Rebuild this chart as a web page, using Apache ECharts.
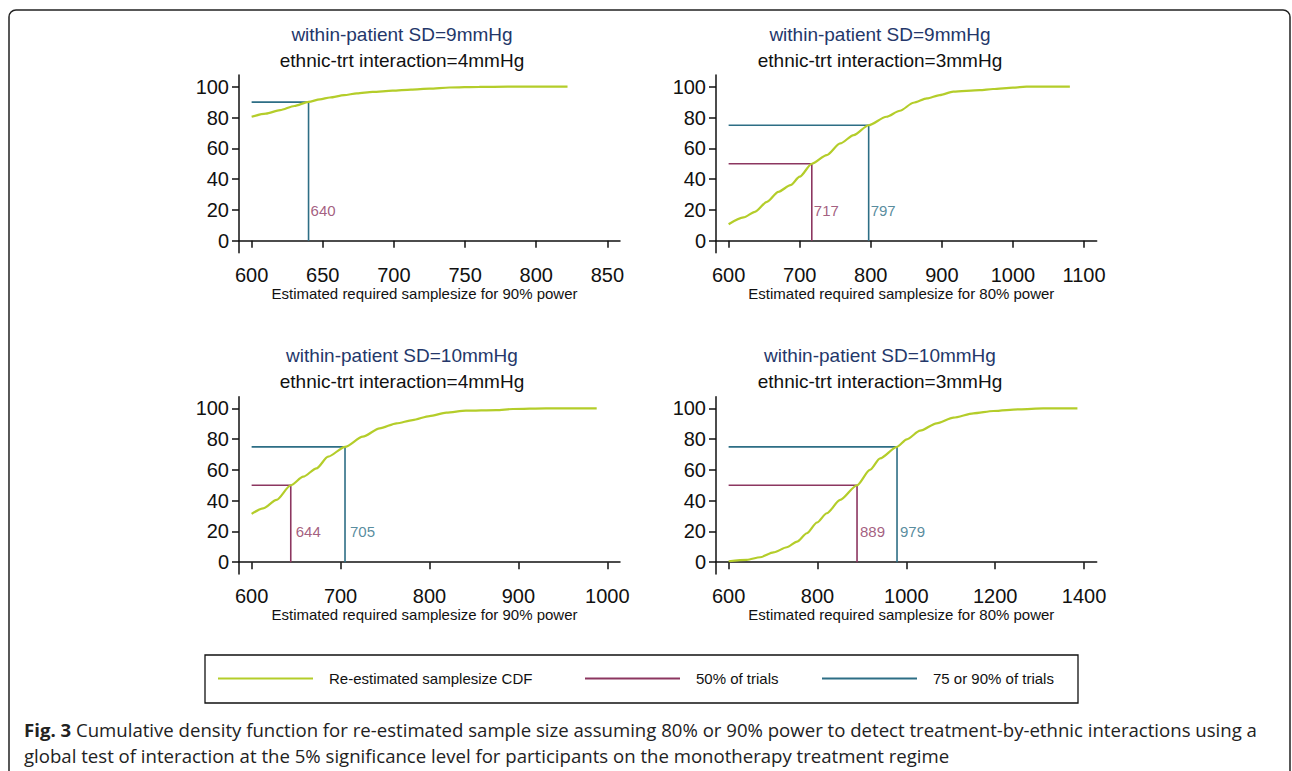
<!DOCTYPE html>
<html>
<head>
<meta charset="utf-8">
<script src="https://cdn.jsdelivr.net/npm/echarts@6/dist/echarts.min.js"></script>
<style>
html,body{margin:0;padding:0;background:#fff;}
#chart{width:1292px;height:771px;}
</style>
</head>
<body>
<div id="chart"></div>
<script>
// ---------- DATA ----------
const yTicks = [0, 20, 40, 60, 80, 100];

// Panel 1: SD=9, interaction=4, 90% power
const p1Title1 = 'within-patient SD=9mmHg';
const p1Title2 = 'ethnic-trt interaction=4mmHg';
const p1XName = 'Estimated required samplesize for 90% power';
const p1XTicks = [600, 650, 700, 750, 800, 850];
const p1CdfX = [600, 610, 620, 630, 640, 648, 655, 665, 674, 685, 699, 712, 725, 739, 760, 780, 800, 822];
const p1CdfY = [80.5, 82.5, 84.8, 87.5, 90.2, 91.8, 93.0, 94.5, 95.7, 96.6, 97.4, 98.1, 98.7, 99.5, 99.9, 100, 100, 100];
const p1Half = null;          // 50% of trials (not within range)
const p1Upper = [640, 90];    // 90% of trials
const p1Labels = [[640, 'half']];

// Panel 2: SD=9, interaction=3, 80% power
const p2Title1 = 'within-patient SD=9mmHg';
const p2Title2 = 'ethnic-trt interaction=3mmHg';
const p2XName = 'Estimated required samplesize for 80% power';
const p2XTicks = [600, 700, 800, 900, 1000, 1100];
const p2CdfX = [600, 621, 637, 654, 670, 687, 700, 717, 738, 757, 776, 797, 822, 841, 860, 879, 897, 916, 953, 972, 1000, 1019, 1050, 1080];
const p2CdfY = [10.8, 15.2, 18.8, 25.3, 31.8, 36.1, 41.6, 50.0, 55.6, 63.2, 68.6, 75.0, 80.5, 84.4, 89.6, 92.4, 94.6, 96.8, 97.8, 98.5, 99.4, 100, 100, 100];
const p2Half = [717, 50];
const p2Upper = [797, 75];
const p2Labels = [[717, 'half'], [797, 'upper']];

// Panel 3: SD=10, interaction=4, 90% power
const p3Title1 = 'within-patient SD=10mmHg';
const p3Title2 = 'ethnic-trt interaction=4mmHg';
const p3XName = 'Estimated required samplesize for 90% power';
const p3XTicks = [600, 700, 800, 900, 1000];
const p3CdfX = [600, 613, 628, 644, 658, 673, 686, 705, 725, 744, 763, 781, 800, 819, 841, 875, 894, 931, 960, 988];
const p3CdfY = [31.4, 35.0, 40.5, 50.0, 55.6, 61.0, 68.6, 75.0, 81.6, 87.0, 90.3, 92.4, 95.0, 97.2, 98.5, 98.9, 99.6, 100, 100, 100];
const p3Half = [644, 50];
const p3Upper = [705, 75];
const p3Labels = [[644, 'half'], [705, 'upper']];

// Panel 4: SD=10, interaction=3, 80% power
const p4Title1 = 'within-patient SD=10mmHg';
const p4Title2 = 'ethnic-trt interaction=3mmHg';
const p4XName = 'Estimated required samplesize for 80% power';
const p4XTicks = [600, 800, 1000, 1200, 1400];
const p4CdfX = [600, 641, 671, 701, 731, 754, 776, 799, 821, 851, 889, 918, 941, 979, 1001, 1031, 1068, 1106, 1151, 1196, 1255, 1308, 1350, 1385];
const p4CdfY = [0.6, 1.5, 3.2, 6.3, 9.7, 13.4, 18.8, 25.8, 31.8, 40.5, 50.0, 60.0, 67.5, 75.0, 79.9, 85.5, 90.3, 94.0, 96.8, 98.3, 99.4, 100, 100, 100];
const p4Half = [889, 50];
const p4Upper = [979, 75];
const p4Labels = [[889, 'half'], [979, 'upper']];

const legendNames = ['Re-estimated samplesize CDF', '50% of trials', '75 or 90% of trials'];
const captionBold = 'Fig. 3';
const captionLine1 = ' Cumulative density function for re-estimated sample size assuming 80% or 90% power to detect treatment-by-ethnic interactions using a';
const captionLine2 = 'global test of interaction at the 5% significance level for participants on the monotherapy treatment regime';

// ---------- STYLE / LAYOUT ----------
const C_GREEN = '#b4cd2a';
const C_MAG = '#8c3660';
const C_TEAL = '#2d6e85';
const C_TITLE = '#24376a';
const FONT = '"Liberation Sans", Arial, sans-serif';
const CAP_FONT = '"Open Sans", sans-serif';

const panels = [
  {t1: p1Title1, t2: p1Title2, xName: p1XName, ticks: p1XTicks, cx: p1CdfX, cy: p1CdfY, half: p1Half, upper: p1Upper, labels: p1Labels,
   grid: {left: 239, top: 75, width: 381, height: 177.7}, titleX: 402, titleY: 34, labelDx: 2},
  {t1: p2Title1, t2: p2Title2, xName: p2XName, ticks: p2XTicks, cx: p2CdfX, cy: p2CdfY, half: p2Half, upper: p2Upper, labels: p2Labels,
   grid: {left: 716, top: 75, width: 380.7, height: 177.7}, titleX: 880, titleY: 34, labelDx: 2},
  {t1: p3Title1, t2: p3Title2, xName: p3XName, ticks: p3XTicks, cx: p3CdfX, cy: p3CdfY, half: p3Half, upper: p3Upper, labels: p3Labels,
   grid: {left: 239, top: 396.7, width: 381, height: 177.3}, titleX: 402, titleY: 355, labelDx: 5},
  {t1: p4Title1, t2: p4Title2, xName: p4XName, ticks: p4XTicks, cx: p4CdfX, cy: p4CdfY, half: p4Half, upper: p4Upper, labels: p4Labels,
   grid: {left: 716, top: 396.7, width: 380.7, height: 177.3}, titleX: 880, titleY: 355, labelDx: 3}
];

const grids = [], xAxes = [], yAxes = [], series = [], graphics = [];
const plainNum = v => String(Math.round(v));

panels.forEach((p, i) => {
  grids.push(Object.assign({containLabel: false}, p.grid));
  const lo = p.ticks[0], hi = p.ticks[p.ticks.length - 1];
  const pad = (hi - lo) * 0.0355;
  const axisLine = {show: true, lineStyle: {color: '#111', width: 1.5}};
  const axisTick = {show: true, length: 7, lineStyle: {color: '#111', width: 1.5}};
  xAxes.push({
    type: 'value', gridIndex: i, min: lo - pad, max: hi + pad,
    axisLine: axisLine,
    axisTick: Object.assign({customValues: p.ticks}, axisTick),
    axisLabel: {customValues: p.ticks, formatter: plainNum, margin: 12, color: '#111', fontSize: 20, fontFamily: FONT},
    splitLine: {show: false},
    name: p.xName, nameLocation: 'middle', nameGap: 33,
    nameTextStyle: {color: '#111', fontSize: 15, fontFamily: FONT, padding: [0, 10, 0, 0]}
  });
  yAxes.push({
    type: 'value', gridIndex: i, min: -7.7, max: 107.6,
    axisLine: axisLine,
    axisTick: Object.assign({customValues: yTicks}, axisTick),
    axisLabel: {customValues: yTicks, formatter: plainNum, margin: 10, color: '#111', fontSize: 20, fontFamily: FONT},
    splitLine: {show: false}
  });
  series.push({
    name: legendNames[0], type: 'line', xAxisIndex: i, yAxisIndex: i,
    data: p.cx.map((x, k) => [x, p.cy[k]]), showSymbol: false, symbol: 'none',
    smooth: 0.25, smoothMonotone: 'x',
    color: C_GREEN, lineStyle: {color: C_GREEN, width: 2.2}, z: 3, silent: true
  });
  const xStart = p.ticks[0];
  if (p.half) {
    series.push({
      name: legendNames[1], type: 'line', xAxisIndex: i, yAxisIndex: i,
      data: [[xStart, p.half[1]], [p.half[0], p.half[1]], [p.half[0], 0]],
      showSymbol: false, symbol: 'none', color: C_MAG, lineStyle: {color: C_MAG, width: 1.6}, z: 2, silent: true
    });
  }
  if (p.upper) {
    series.push({
      name: legendNames[2], type: 'line', xAxisIndex: i, yAxisIndex: i,
      data: [[xStart, p.upper[1]], [p.upper[0], p.upper[1]], [p.upper[0], 0]],
      showSymbol: false, symbol: 'none', color: C_TEAL, lineStyle: {color: C_TEAL, width: 1.6}, z: 2, silent: true
    });
  }
  series.push({
    name: 'labels' + i, type: 'scatter', xAxisIndex: i, yAxisIndex: i,
    symbolSize: 0, silent: true,
    data: p.labels.map(l => ({
      value: [l[0], 20],
      label: {show: true, position: 'right', distance: p.labelDx, formatter: String(l[0]),
              color: l[1] === 'half' ? C_MAG : C_TEAL, fontSize: 15, fontFamily: FONT}
    }))
  });
  graphics.push({type: 'text', x: p.titleX, y: p.titleY, style: {text: p.t1, fill: C_TITLE, font: '19px ' + FONT, textAlign: 'center', textVerticalAlign: 'middle'}});
  graphics.push({type: 'text', x: p.titleX, y: p.titleY + 26.5, style: {text: p.t2, fill: '#111', font: '19px ' + FONT, textAlign: 'center', textVerticalAlign: 'middle'}});
});

// outer frame
graphics.push({type: 'rect', shape: {x: 9, y: 10, width: 1281, height: 820, r: 7}, style: {fill: null, stroke: '#222', lineWidth: 1.5}, z: -1});
// legend frame
graphics.push({type: 'rect', shape: {x: 205, y: 655, width: 873, height: 48}, style: {fill: '#fff', stroke: '#111', lineWidth: 1.3}, z: -1});
// caption
graphics.push({type: 'text', x: 24, y: 729, style: {
  text: '{b|' + captionBold + '}{r|' + captionLine1 + '}',
  textVerticalAlign: 'middle',
  rich: {b: {font: 'bold 18.6px ' + CAP_FONT, fill: '#222'}, r: {font: '18.6px ' + CAP_FONT, fill: '#222'}}
}});
graphics.push({type: 'text', x: 24, y: 755, style: {text: captionLine2, textVerticalAlign: 'middle', font: '18.6px ' + CAP_FONT, fill: '#222'}});

const legendX = [218, 585, 822];
const legends = legendNames.map((n, k) => ({
  data: [n], left: legendX[k], top: 671, padding: 0, icon: 'rect', itemWidth: 95, itemHeight: 2,
  selectedMode: false,
  textStyle: {fontSize: 15, fontFamily: FONT, color: '#111', padding: [0, 0, 0, 11]}
}));

const chart = echarts.init(document.getElementById('chart'), null, {renderer: 'svg'});
chart.setOption({
  animation: false,
  backgroundColor: '#fff',
  grid: grids, xAxis: xAxes, yAxis: yAxes, series: series,
  legend: legends, graphic: graphics
});
</script>
</body>
</html>
